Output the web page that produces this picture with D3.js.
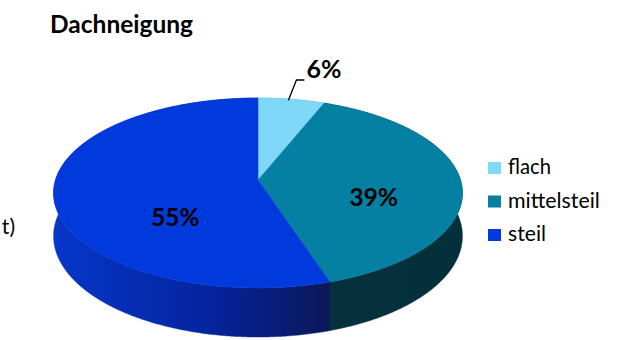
<!DOCTYPE html>
<html>
<head>
<meta charset="utf-8">
<script src="https://cdn.jsdelivr.net/npm/d3@7"></script>
<style>
  html, body { margin: 0; padding: 0; background: #fff; }
  svg { display: block; font-family: Lato, "Open Sans", "Noto Sans", sans-serif; }
</style>
</head>
<body>
<svg id="chart" width="625" height="340"></svg>
<script>
// Roof pitch shares (percent)
const categories = ["flach", "mittelsteil", "steil"];
const shares = [6, 39, 55];
const valueLabels = ["6%", "39%", "55%"];
const chartTitle = "Dachneigung";

// Fill colours per category: top face
const topColors = ["#80d8f8", "#0580a2", "#003adc"];

const svg = d3.select("#chart");

// 3D pie geometry: a flat disc seen from above with slight perspective
const geo = { cx: 258, cy: 180, a: 202.5, b: 93.2, p: 0.137, h: 42.3 };

// map angle (clockwise from 12 o'clock), radius fraction and height (0 top, 1 bottom) to screen
function proj(theta, r = 1, z = 0) {
  const u = Math.sin(theta) * r, v = -Math.cos(theta) * r;
  const d = 1 - geo.p * v;
  return [geo.cx + geo.a * u / d, geo.cy + (geo.b * v + geo.h * z) / d];
}

const pie = d3.pie().sort(null).value(d => d.value);
const data = categories.map((c, i) => ({ name: c, value: shares[i], label: valueLabels[i], color: topColors[i] }));
const arcs = pie(data);

const line = d3.line();
function rimPoints(a0, a1, z) {
  const n = Math.max(2, Math.ceil((a1 - a0) / (Math.PI / 360)));
  return d3.range(n + 1).map(k => proj(a0 + (a1 - a0) * k / n, 1, z));
}

// gradients for side walls
const defs = svg.append("defs");
const sideGrads = {
  steil: [["0", "#0636c8"], ["0.55", "#0424a0"], ["1", "#0b1858"]],
  mittelsteil: [["0", "#06343f"], ["1", "#04303b"]],
  flach: [["0", "#4aa8c8"], ["1", "#3a90b0"]]
};
Object.entries(sideGrads).forEach(([key, stops]) => {
  const g = defs.append("linearGradient")
    .attr("id", "side-" + key)
    .attr("gradientUnits", "userSpaceOnUse")
    .attr("x1", geo.cx - geo.a).attr("y1", 0)
    .attr("x2", key === "steil" ? proj(0.9 * Math.PI)[0] : geo.cx + geo.a).attr("y2", 0);
  stops.forEach(([o, c]) => g.append("stop").attr("offset", o).attr("stop-color", c));
});

const pieG = svg.append("g");

// side walls first, then top faces
pieG.selectAll("path.side")
  .data(arcs)
  .join("path")
  .attr("class", "side")
  .attr("fill", d => `url(#side-${d.data.name})`)
  .attr("stroke", d => `url(#side-${d.data.name})`)
  .attr("stroke-width", 0.5)
  .attr("d", d => {
    const top = rimPoints(d.startAngle, d.endAngle, 0);
    const bot = rimPoints(d.startAngle, d.endAngle, 1).reverse();
    return line(top.concat(bot)) + "Z";
  });

pieG.selectAll("path.top")
  .data(arcs)
  .join("path")
  .attr("class", "top")
  .attr("fill", d => d.data.color)
  .attr("stroke", d => d.data.color)
  .attr("stroke-width", 0.5)
  .attr("d", d => line([proj(0, 0)].concat(rimPoints(d.startAngle, d.endAngle, 0))) + "Z");

// keep a text element at a given width by adjusting font size
function fitWidth(sel, target) {
  const fs = parseFloat(sel.attr("font-size"));
  const w = sel.node().getComputedTextLength();
  if (w > 0) sel.attr("font-size", (fs * target / w).toFixed(2));
  return sel;
}

// value labels
const labelLayout = {
  mittelsteil: { r: 0.57, dy: 24, width: 49 },
  steil: { r: 0.41, dy: 40, width: 48 }
};
arcs.forEach(d => {
  const mid = (d.startAngle + d.endAngle) / 2;
  const lay = labelLayout[d.data.name];
  if (lay) {
    const [x, y] = proj(mid, lay.r);
    const t = svg.append("text")
      .attr("x", x).attr("y", y + lay.dy)
      .attr("text-anchor", "middle")
      .attr("font-weight", "bold")
      .attr("font-size", 26)
      .attr("fill", "#000")
      .text(d.data.label);
    fitWidth(t, lay.width);
  } else {
    // small slice: label outside with a leader line
    const [x0, y0] = proj(mid, 1);
    const x1 = x0 + 5, y1 = 80, x2 = x1 + 8;
    svg.append("path")
      .attr("d", line([[x0 - 3, y0 + 1], [x1, y1], [x2, y1]]))
      .attr("fill", "none")
      .attr("stroke", "#000")
      .attr("stroke-width", 1.3);
    const t = svg.append("text")
      .attr("x", x2 + 2).attr("y", 78)
      .attr("font-weight", "bold")
      .attr("font-size", 24)
      .attr("fill", "#000")
      .text(d.data.label);
    fitWidth(t, 35);
  }
});

// title
fitWidth(svg.append("text")
  .attr("x", 50).attr("y", 33)
  .attr("font-weight", "bold")
  .attr("font-size", 21)
  .attr("fill", "#000")
  .text(chartTitle), 143);

// clipped axis caption at the left edge
svg.append("text")
  .attr("x", 15).attr("y", 234)
  .attr("text-anchor", "end")
  .attr("font-size", 21)
  .attr("fill", "#000")
  .text("t)");

// legend
const legend = svg.append("g").attr("transform", "translate(488,162)");
const rowGap = 33.5;
const items = legend.selectAll("g")
  .data(data)
  .join("g")
  .attr("transform", (d, i) => `translate(0,${i * rowGap})`);
items.append("rect")
  .attr("width", 13).attr("height", 12)
  .attr("fill", d => d.color);
const legendWidths = { flach: 43, mittelsteil: 92, steil: 38 };
items.append("text")
  .attr("x", 20).attr("y", 12)
  .attr("font-size", 18)
  .attr("fill", "#000")
  .text(d => d.name)
  .each(function (d) { fitWidth(d3.select(this), legendWidths[d.name]); });
</script>
</body>
</html>
